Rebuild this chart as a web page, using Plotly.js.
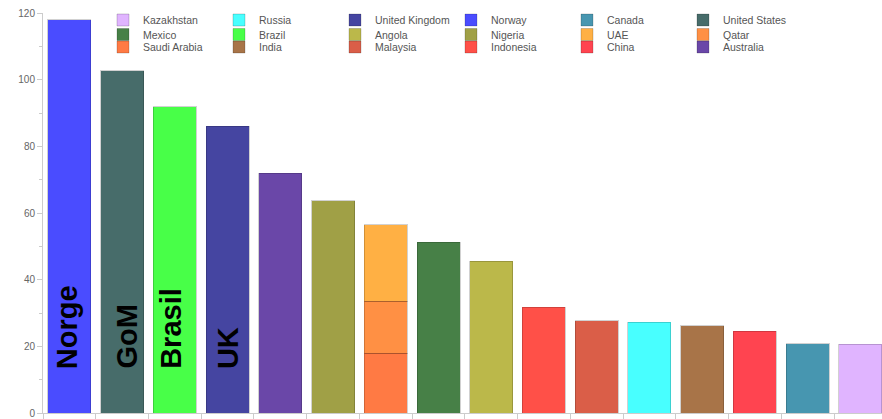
<!DOCTYPE html>
<html>
<head>
<meta charset="utf-8">
<script src="https://cdn.plot.ly/plotly-3.0.1.min.js"></script>
<style>html,body{margin:0;padding:0;background:#fff;}#chart{width:882px;height:419px;}</style>
</head>
<body>
<div id="chart"></div>
<script>
// Bar positions (left to right)
const categories = ['Norway','United States','Brazil','United Kingdom','Australia','Nigeria','Gulf','Mexico','Angola','Indonesia','Malaysia','Russia','India','China','Canada','Kazakhstan'];

// Series in drawing/stacking order
const countries = ['Norway','United States','Brazil','United Kingdom','Australia','Nigeria','Saudi Arabia','Qatar','UAE','Mexico','Angola','Indonesia','Malaysia','Russia','India','China','Canada','Kazakhstan'];
const countryCategory = ['Norway','United States','Brazil','United Kingdom','Australia','Nigeria','Gulf','Gulf','Gulf','Mexico','Angola','Indonesia','Malaysia','Russia','India','China','Canada','Kazakhstan'];
const values = [118, 102.7, 91.9, 86.1, 72, 63.7, 18, 15.5, 23, 51.3, 45.6, 31.7, 27.7, 27.2, 26.2, 24.6, 20.8, 20.6];
const colors = ['#4a4cff','#476c6a','#48ff48','#4545a1','#6a47a8','#a0a046','#ff7a44','#ff9044','#ffb044','#478047','#bbb84a','#ff5048','#da5e48','#48ffff','#a87448','#ff4450','#4796b0','#e0b4ff'];

// Legend order (row-wise, 6 per row)
const legendOrder = ['Kazakhstan','Russia','United Kingdom','Norway','Canada','United States',
                     'Mexico','Brazil','Angola','Nigeria','UAE','Qatar',
                     'Saudi Arabia','India','Malaysia','Indonesia','China','Australia'];

// In-bar labels
const labelText = ['Norge','GoM','Brasil','UK'];
const labelCategory = ['Norway','United States','Brazil','United Kingdom'];
const labelShift = [-2.2, 4.5, -4.5, 0.5];

const yTicks = [0,20,40,60,80,100,120];

const legendNames = ['legend','legend2','legend3'];
const traces = countries.map((c,i) => {
  const rank = legendOrder.indexOf(c);
  return {
    type: 'bar',
    name: c,
    x: [countryCategory[i]],
    y: [values[i]],
    marker: {color: colors[i], line: {color: 'rgba(0,0,0,0.18)', width: 1}},
    legend: legendNames[Math.floor(rank/6)],
    legendrank: rank,
    hoverinfo: 'skip'
  };
});

const legFont = {family: 'Liberation Sans, Arial, sans-serif', size: 10.5, color: '#555'};
const legendBase = {orientation: 'h', xref: 'paper', yref: 'paper', xanchor: 'left', yanchor: 'middle',
  x: 0.0715, entrywidth: 71, entrywidthmode: 'pixels', font: legFont, bgcolor: 'rgba(0,0,0,0)',
  traceorder: 'normal', itemclick: false, itemdoubleclick: false};
const rowY = [0.9825, 0.94625, 0.915];

const annotations = labelText.map((t,i) => ({
  x: labelCategory[i], y: 12.6, xref: 'x', yref: 'y',
  text: t, showarrow: false, textangle: -90,
  xanchor: 'center', yanchor: 'bottom', xshift: labelShift[i],
  font: {family: 'Liberation Sans, Arial, sans-serif', size: 29, color: '#000', weight: 'bold'}
}));

const layout = {
  width: 882, height: 419,
  margin: {l: 43, r: 0, t: 13, b: 6, pad: 0},
  paper_bgcolor: '#fff', plot_bgcolor: '#fff',
  barmode: 'stack', bargap: 0.185,
  showlegend: true,
  legend: Object.assign({}, legendBase, {y: rowY[0]}),
  legend2: Object.assign({}, legendBase, {y: rowY[1]}),
  legend3: Object.assign({}, legendBase, {y: rowY[2]}),
  xaxis: {type: 'category', categoryorder: 'array', categoryarray: categories,
    range: [-0.5, 15.41], showticklabels: false, ticks: 'outside', tickson: 'boundaries',
    ticklen: 5, tickcolor: '#ccc', showline: true, linecolor: '#ccc', linewidth: 1,
    showgrid: false, zeroline: false, fixedrange: true},
  yaxis: {range: [0, 120], tickvals: yTicks, ticks: 'outside', ticklen: 5, tickcolor: '#ccc',
    showline: true, linecolor: '#ccc', linewidth: 1, showgrid: false, zeroline: false,
    tickfont: {family: 'Liberation Sans, Arial, sans-serif', size: 10, color: '#666'},
    minor: {dtick: 10, tick0: 0, ticks: 'outside', ticklen: 3, tickcolor: '#ccc', showgrid: false},
    fixedrange: true},
  annotations: annotations
};

Plotly.newPlot('chart', traces, layout, {displayModeBar: false, staticPlot: true});
</script>
</body>
</html>
